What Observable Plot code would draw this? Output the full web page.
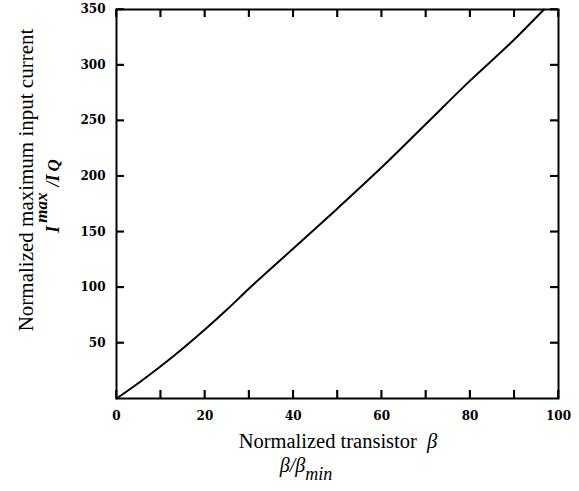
<!DOCTYPE html>
<html>
<head>
<meta charset="utf-8">
<script src="https://cdn.jsdelivr.net/npm/d3@7"></script>
<script src="https://cdn.jsdelivr.net/npm/@observablehq/plot@0.6"></script>
<style>
  html, body { margin: 0; padding: 0; background: #fff; }
  svg { display: block; }
</style>
</head>
<body>
<div id="chart"></div>
<script>
// Normalized transistor beta (beta / beta_min)
const betaValues = [0, 5, 10, 15, 20, 25, 30, 40, 50, 60, 70, 80, 90, 96.7];
// Normalized maximum input current (I_max / I_Q)
const currentValues = [0, 14, 29, 45, 62, 80, 99, 135, 171, 208, 247, 286, 323, 350];

const xMinorTicks = [0, 10, 20, 30, 40, 50, 60, 70, 80, 90, 100];
const xTickLabels = [0, 20, 40, 60, 80, 100];
const yTicks = [50, 100, 150, 200, 250, 300, 350];

const curvePoints = betaValues.map((b, i) => ({beta: b, current: currentValues[i]}));

const TICK = 8;
const tickFont = {fontFamily: "DejaVu Serif", fontWeight: "bold", fontSize: 12};
const frameW = 579 - 116 - 21, frameH = 491 - 9 - 93;
const tickStyle = {stroke: "#000", strokeWidth: 1.6};

const svg = Plot.plot({
  width: 579, height: 491, marginLeft: 116, marginRight: 21, marginTop: 9, marginBottom: 93,
  style: {background: "#fff", color: "#000", fontFamily: "DejaVu Serif", fontSize: "12px", fontWeight: "bold"},
  x: {domain: [0, 100]}, y: {domain: [0, 350]},
  marks: [
    Plot.axisX(xTickLabels, {anchor: "bottom", tickSize: 0, tickPadding: 13, label: null, ...tickFont}),
    Plot.axisY(yTicks, {anchor: "left", tickSize: 0, tickPadding: 11, label: null, ...tickFont}),
    // inward ticks on all four sides
    Plot.tickX(xMinorTicks, {x: d => d, insetTop: frameH - TICK, ...tickStyle}),
    Plot.tickX(xMinorTicks, {x: d => d, insetBottom: frameH - TICK, ...tickStyle}),
    Plot.tickY(yTicks, {y: d => d, insetRight: frameW - TICK, ...tickStyle}),
    Plot.tickY(yTicks, {y: d => d, insetLeft: frameW - TICK, ...tickStyle}),
    Plot.frame({stroke: "#000", strokeWidth: 2}),
    Plot.line(curvePoints, {x: "beta", y: "current", stroke: "#000", strokeWidth: 2, curve: "monotone-x"})
  ]
});

const s = d3.select(svg);
const xs = svg.scale("x"), ys = svg.scale("y");
const [x0, x1] = xs.range, [y0, y1] = ys.range;

// same inward ticks, drawn again through Plot's scales as plain lines
const tg = s.append("g").attr("stroke", "#000").attr("stroke-width", 1.6);
for (const v of xMinorTicks) {
  const px = xs.apply(v);
  tg.append("line").attr("x1", px).attr("x2", px).attr("y1", y0).attr("y2", y0 - TICK);
  tg.append("line").attr("x1", px).attr("x2", px).attr("y1", y1).attr("y2", y1 + TICK);
}
for (const v of yTicks) {
  const py = ys.apply(v);
  tg.append("line").attr("x1", x0).attr("x2", x0 + TICK).attr("y1", py).attr("y2", py);
  tg.append("line").attr("x1", x1).attr("x2", x1 - TICK).attr("y1", py).attr("y2", py);
}

const serif = "Liberation Serif";

// x axis title
const xt = s.append("text")
  .attr("x", 338).attr("y", 448)
  .attr("text-anchor", "middle")
  .attr("font-family", serif).attr("font-size", 20.5).attr("font-weight", "normal")
  .attr("fill", "#000");
xt.append("tspan").text("Normalized transistor\u2002");
xt.append("tspan").attr("font-style", "italic").text("β");

// second x title line: beta / beta_min
const xt2 = s.append("text")
  .attr("x", 306).attr("y", 472)
  .attr("text-anchor", "middle")
  .attr("font-family", serif).attr("font-size", 20).attr("font-style", "italic").attr("font-weight", "normal")
  .attr("fill", "#000");
xt2.append("tspan").text("β/β");
xt2.append("tspan").attr("dy", 8).attr("font-size", 18).text("min");

// y axis title
s.append("text")
  .attr("transform", "translate(33,180) rotate(-90)")
  .attr("text-anchor", "middle")
  .attr("font-family", serif).attr("font-size", 21).attr("font-weight", "normal")
  .attr("fill", "#000")
  .text("Normalized maximum input current");

// I_max / I_Q
const yt2 = s.append("text")
  .attr("transform", "translate(59,196) rotate(-90)")
  .attr("text-anchor", "middle")
  .attr("font-family", serif).attr("font-size", 18).attr("font-style", "italic").attr("font-weight", "bold")
  .attr("fill", "#000");
yt2.append("tspan").text("I");
yt2.append("tspan").attr("dx", 3).attr("dy", -12).attr("font-size", 17).text("max");
yt2.append("tspan").attr("dx", 6).attr("dy", 12).text("/I");
yt2.append("tspan").attr("dx", 3).attr("font-size", 17).text("Q");

document.getElementById("chart").appendChild(svg);
</script>
</body>
</html>
